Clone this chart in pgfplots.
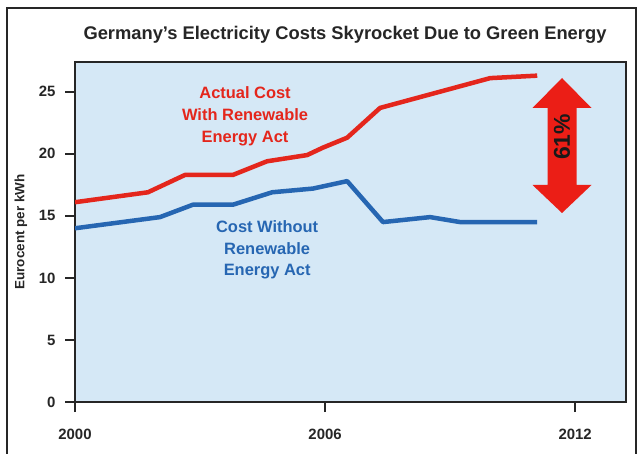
\documentclass[border=0pt]{standalone}
\usepackage{pgfplots}
\pgfplotsset{compat=1.18}
\usepackage{fontspec}
\setmainfont{Liberation Sans}
\definecolor{bgblue}{RGB}{213,232,246}
\definecolor{costred}{RGB}{228,38,28}
\definecolor{costblue}{RGB}{38,102,178}
\definecolor{arrowred}{RGB}{235,30,22}
\begin{document}
\begin{tikzpicture}
\path[use as bounding box, fill=white] (0,0) rectangle (640bp,454bp);
\draw[line width=2bp, black!85] (7bp,0) -- (7bp,446bp) -- (636bp,446bp) -- (636bp,0);
\begin{axis}[
    at={(75bp,52bp)}, anchor=south west,
    scale only axis, width=551bp, height=340bp,
    xmin=2000, xmax=2013.22, ymin=0, ymax=27.4,
    axis background/.style={fill=bgblue},
    axis line style={line width=1.8bp, black!85},
    xtick={2000,2006,2012}, xticklabels={2000,2006,2012},
    ytick={0,5,10,15,20,25},
    tick align=outside, xtick pos=bottom, ytick pos=left,
    major tick length=10bp,
    every tick/.style={line width=1.8bp, black!85},
    ticklabel style={font=\fontsize{15}{17}\selectfont\bfseries, text=black!85},
    /pgf/number format/assume math mode=true,
    xticklabel style={yshift=-14bp},
    yticklabel style={xshift=-6bp},
    ylabel={Eurocent per kWh},
    ylabel style={font=\fontsize{13.5}{15}\selectfont\bfseries, text=black!85,
        at={(axis description cs:-0.098,0.5)}, anchor=center},
]
% actual cost with renewable energy act
\addplot[costred, line width=4.5bp, line join=round, mark=none] coordinates {
    (2000.00,16.1) (2001.75,16.9) (2002.64,18.3) (2003.79,18.3) (2004.61,19.4)
    (2005.57,19.9) (2005.95,20.5) (2006.53,21.3) (2007.32,23.7) (2009.96,26.1)
    (2011.09,26.3)};
% cost without renewable energy act
\addplot[costblue, line width=4.5bp, line join=round, mark=none] coordinates {
    (2000.00,14.0) (2002.04,14.9) (2002.83,15.9) (2003.79,15.9) (2004.73,16.9)
    (2005.71,17.2) (2006.53,17.8) (2007.39,14.5) (2008.52,14.9) (2009.24,14.5)
    (2011.09,14.5)};
\node[costred, align=center, font=\fontsize{16.5}{22}\selectfont\bfseries]
    at (axis cs:2004.08,23.0) {Actual Cost\\With Renewable\\Energy Act};
\node[costblue, align=center, font=\fontsize{16.5}{22}\selectfont\bfseries]
    at (axis cs:2004.61,12.26) {Cost Without\\Renewable\\Energy Act};
\end{axis}
\node[font=\fontsize{18.4}{21}\selectfont\bfseries, text=black!85]
    at (345bp,419bp) {Germany's Electricity Costs Skyrocket Due to Green Energy};
% 61% double arrow
\fill[arrowred] (562bp,376bp) -- (591.5bp,346bp) -- (576.5bp,346bp) -- (576.5bp,269bp)
    -- (591.5bp,269bp) -- (562bp,241bp) -- (532.5bp,269bp) -- (547.5bp,269bp)
    -- (547.5bp,346bp) -- (532.5bp,346bp) -- cycle;
\node[rotate=90, font=\fontsize{23}{25}\selectfont\bfseries, text=black!90]
    at (562bp,317bp) {61\%};
\end{tikzpicture}
\end{document}
